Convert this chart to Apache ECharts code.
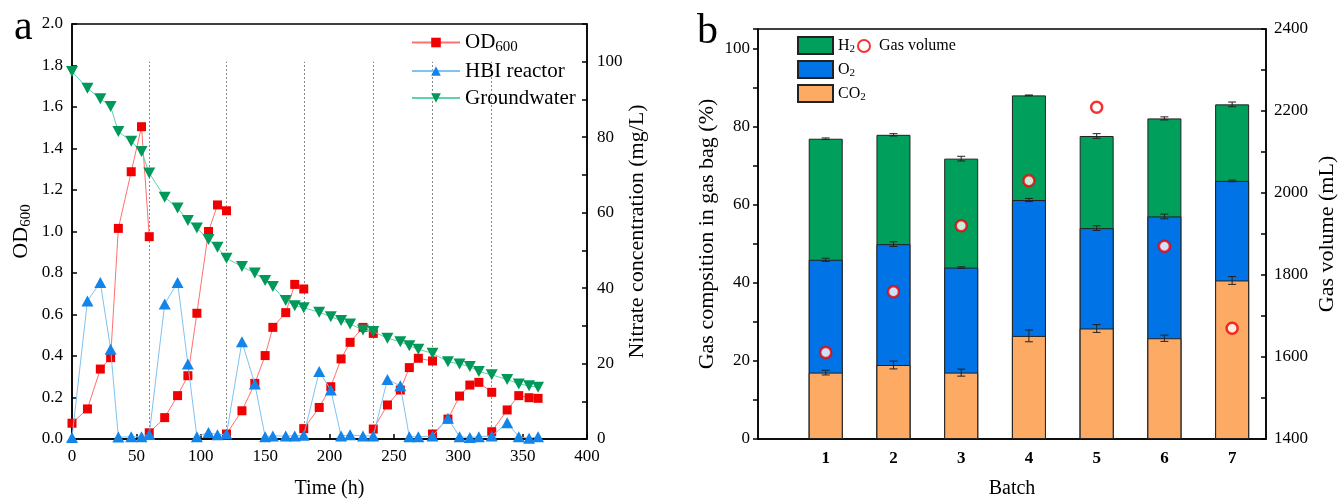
<!DOCTYPE html>
<html><head><meta charset="utf-8">
<script src="https://cdn.jsdelivr.net/npm/echarts@6/dist/echarts.min.js"></script>
<style>html,body{margin:0;padding:0;background:#fff}#c{width:1338px;height:500px}</style>
</head><body><div id="c"></div>
<script>
// ---------- Panel a data ----------
const sampleTimes = [0,12,22,30,36,46,54,60,72,82,90,97,106,113,120,132,142,150,156,166,173,180,192,201,209,216,226,234,245,255,262,269,280,292,301,309,316,326,338,347,355,362];
const groundwaterNitrate = [97.4,93.0,90.2,88.1,81.5,78.9,76.2,70.5,64.1,61.2,57.9,55.9,52.9,50.8,47.9,45.7,44.0,42.0,40.4,36.7,35.3,34.8,33.6,32.4,31.4,30.5,28.9,28.5,26.7,25.8,24.7,23.8,22.7,20.5,19.9,19.2,17.9,17.0,15.8,14.6,14.1,13.7];
const hbiNitrate = [0.4,36.6,41.5,23.8,0.5,0.6,0.6,1.2,35.8,41.5,19.9,0.6,1.7,1.1,1.3,25.8,14.6,0.6,0.8,0.8,0.8,1.0,17.9,13.0,0.8,1.1,0.8,0.8,15.8,14.1,0.6,0.6,0.8,5.5,0.6,0.4,0.6,0.8,4.3,0.6,0.2,0.6];
const odTimes = [0,12,22,30,36,46,54,60,60,72,82,90,97,106,113,120,120,132,142,150,156,166,173,180,180,192,201,209,216,226,234,234,245,255,262,269,280,280,292,301,309,316,326,326,338,347,355,362];
const odValues = [0.076,0.145,0.337,0.392,1.015,1.288,1.505,0.975,0.03,0.103,0.209,0.305,0.606,1.0,1.128,1.1,0.024,0.136,0.268,0.402,0.538,0.609,0.745,0.723,0.05,0.152,0.252,0.386,0.466,0.538,0.509,0.048,0.164,0.236,0.344,0.389,0.376,0.024,0.096,0.207,0.26,0.273,0.225,0.035,0.14,0.209,0.199,0.196];
const batchBoundaries = [60,120,180,234,280,326];

// ---------- Panel b data ----------
const batches = [1,2,3,4,5,6,7];
const co2 = [17.0,18.95,17.0,26.4,28.3,25.8,40.6];
const o2 = [28.9,30.95,26.9,34.8,25.7,31.2,25.5];
const h2 = [31.0,28.0,27.9,26.8,23.6,25.1,19.6];
const co2Err = [0.6,1.0,0.9,1.5,1.0,0.8,1.0];
const o2Err = [0.4,0.6,0.2,0.4,0.6,0.6,0.2];
const h2Err = [0.2,0.3,0.6,0.1,0.6,0.4,0.6];
const gasVolume = [1611,1759,1920,2030,2209,1870,1670];

const FONT = 'Liberation Serif';
const chart = echarts.init(document.getElementById('c'));

const pair = (xs, ys) => xs.map((x, i) => [x, ys[i]]);

// OD600 line: break the line where a new batch starts (same time sampled twice)
const odData = [];
odTimes.forEach((t, i) => {
  if (i > 0 && t === odTimes[i - 1]) odData.push([t, '-']);
  odData.push([t, odValues[i]]);
});

// cumulative tops for the layered bars
const topCO2 = co2.slice();
const topO2 = co2.map((v, i) => v + o2[i]);
const topH2 = co2.map((v, i) => v + o2[i] + h2[i]);
const errData = [];
batches.forEach((b, i) => {
  errData.push([b, topCO2[i], co2Err[i]]);
  errData.push([b, topO2[i], o2Err[i]]);
  errData.push([b, topH2[i], h2Err[i]]);
});

const axisTxt = {fontFamily: FONT, fontSize: 17, color: '#000'};
const blackLine = {lineStyle: {color: '#000', width: 1.5}};

const option = {
  animation: false,
  backgroundColor: '#fff',
  textStyle: {fontFamily: FONT},
  grid: [
    {left: 72, top: 24, width: 515, height: 415, containLabel: false, outerBoundsMode: 'none', show: true, borderColor: '#000', borderWidth: 1.5, backgroundColor: 'transparent'},
    {left: 758, top: 29, width: 508, height: 410, containLabel: false, outerBoundsMode: 'none', show: true, borderColor: '#000', borderWidth: 1.5, backgroundColor: 'transparent'}
  ],
  graphic: [
    {type: 'text', left: 14, top: 7, style: {text: 'a', font: '42px "Liberation Serif"', fill: '#000'}},
    {type: 'text', left: 697, top: 11, style: {text: 'b', font: '42px "Liberation Serif"', fill: '#000'}}
  ],
  legend: [
    {
      orient: 'vertical', left: 406, top: 27, itemWidth: 48, itemHeight: 12, itemGap: 6,
      data: ['OD600', 'HBI reactor', 'Groundwater'],
      textStyle: {fontFamily: FONT, fontSize: 21, color: '#000',
        rich: {a: {fontFamily: FONT, fontSize: 21, color: '#000'}, s: {fontFamily: FONT, fontSize: 15, color: '#000', verticalAlign: 'bottom', padding: [9, 0, 0, 0]}}},
      formatter: n => n === 'OD600' ? '{a|OD}{s|600}' : n
    },
    {
      orient: 'vertical', left: 792, top: 31, itemWidth: 35, itemHeight: 17, itemGap: 5, icon: 'rect',
      data: ['H2', 'O2', 'CO2'],
      textStyle: {fontFamily: FONT, fontSize: 16, color: '#000',
        rich: {a: {fontFamily: FONT, fontSize: 16, color: '#000'}, s: {fontFamily: FONT, fontSize: 11, color: '#000', verticalAlign: 'bottom', padding: [7, 0, 0, 0]}}},
      formatter: n => '{a|' + n.replace(/\d/, '') + '}{s|2}'
    },
    {
      orient: 'vertical', left: 852, top: 33, itemWidth: 20, itemHeight: 12, data: ['Gas volume'],
      textStyle: {fontFamily: FONT, fontSize: 16, color: '#000'}
    }
  ],
  xAxis: [
    {
      gridIndex: 0, type: 'value', min: 0, max: 400, interval: 50,
      name: 'Time (h)', nameLocation: 'middle', nameGap: 40,
      nameTextStyle: {fontFamily: FONT, fontSize: 20, color: '#000'},
      axisLine: blackLine,
      axisTick: {inside: true, length: 5, lineStyle: {color: '#000', width: 1.5}},
      axisLabel: Object.assign({margin: 9}, axisTxt),
      splitLine: {show: false}
    },
    {
      gridIndex: 1, type: 'value', min: 0, max: 7.5, interval: 1,
      name: 'Batch', nameLocation: 'middle', nameGap: 40,
      nameTextStyle: {fontFamily: FONT, fontSize: 20, color: '#000'},
      axisLine: blackLine,
      axisTick: {show: false},
      axisLabel: Object.assign({margin: 11, fontWeight: 'bold', showMaxLabel: false, formatter: v => (v >= 1 && v <= 7) ? String(v) : ''}, axisTxt),
      splitLine: {show: false}
    }
  ],
  yAxis: [
    {
      gridIndex: 0, type: 'value', min: 0, max: 2, interval: 0.2,
      name: '{a|OD}{s|600}', nameLocation: 'middle', nameGap: 38, nameRotate: 90,
      nameTextStyle: {rich: {
        a: {fontFamily: FONT, fontSize: 22, color: '#000'},
        s: {fontFamily: FONT, fontSize: 15, color: '#000', verticalAlign: 'bottom', padding: [10, 0, 0, 0]}
      }},
      axisLine: blackLine,
      axisTick: {inside: true, length: 5, lineStyle: {color: '#000', width: 1.5}},
      axisLabel: Object.assign({margin: 9, formatter: v => v.toFixed(1)}, axisTxt),
      splitLine: {show: false}
    },
    {
      gridIndex: 0, type: 'value', min: 0, max: 110, interval: 20, position: 'right',
      name: 'Nitrate concentration (mg/L)', nameLocation: 'middle', nameGap: 29, nameRotate: 90,
      nameTextStyle: {fontFamily: FONT, fontSize: 22, color: '#000'},
      axisLine: blackLine,
      axisTick: {inside: true, length: 5, lineStyle: {color: '#000', width: 1.5}},
      minorTick: {show: true, splitNumber: 2, length: 5, lineStyle: {color: '#000', width: 1.5}},
      axisLabel: Object.assign({margin: 10, showMaxLabel: false}, axisTxt),
      splitLine: {show: false}
    },
    {
      gridIndex: 1, type: 'value', min: 0, max: 105, interval: 20,
      name: 'Gas compsition in gas bag (%)', nameLocation: 'middle', nameGap: 40, nameRotate: 90,
      nameTextStyle: {fontFamily: FONT, fontSize: 22, color: '#000'},
      axisLine: blackLine,
      axisTick: {inside: false, length: 5, lineStyle: {color: '#000', width: 1.5}},
      minorTick: {show: true, splitNumber: 2, length: 5, lineStyle: {color: '#000', width: 1.5}},
      axisLabel: Object.assign({margin: 8, showMaxLabel: false}, axisTxt),
      splitLine: {show: false}
    },
    {
      gridIndex: 1, type: 'value', min: 1400, max: 2400, interval: 200, position: 'right',
      name: 'Gas volume (mL)', nameLocation: 'middle', nameGap: 50, nameRotate: 90,
      nameTextStyle: {fontFamily: FONT, fontSize: 22, color: '#000'},
      axisLine: blackLine,
      axisTick: {inside: true, length: 5, lineStyle: {color: '#000', width: 1.5}},
      minorTick: {show: true, splitNumber: 2, length: 5, lineStyle: {color: '#000', width: 1.5}},
      axisLabel: Object.assign({margin: 8, formatter: v => String(v)}, axisTxt),
      splitLine: {show: false}
    }
  ],
  series: [
    {
      name: 'OD600', type: 'line', xAxisIndex: 0, yAxisIndex: 0, connectNulls: false,
      data: odData, symbol: 'rect', symbolSize: 9,
      lineStyle: {color: '#ff7070', width: 1}, itemStyle: {color: '#f00000'}, z: 3
    },
    {
      name: 'HBI reactor', type: 'line', xAxisIndex: 0, yAxisIndex: 1,
      data: pair(sampleTimes, hbiNitrate), symbol: 'triangle', symbolSize: [12, 11],
      lineStyle: {color: '#7ec3f2', width: 1}, itemStyle: {color: '#1284ea'}, z: 4
    },
    {
      name: 'Groundwater', type: 'line', xAxisIndex: 0, yAxisIndex: 1,
      data: pair(sampleTimes, groundwaterNitrate), symbol: 'triangle', symbolRotate: 180, symbolSize: [12, 11],
      lineStyle: {color: '#5fd1ad', width: 1}, itemStyle: {color: '#00995a'}, z: 5,
      markLine: {
        silent: true, symbol: 'none', label: {show: false}, z: 1,
        lineStyle: {color: '#888', type: [2, 2], width: 1},
        data: batchBoundaries.map(t => [{coord: [t, 0]}, {coord: [t, 100]}])
      }
    },
    {
      name: 'H2', type: 'bar', xAxisIndex: 1, yAxisIndex: 2, barWidth: 34, barGap: '-100%',
      data: pair(batches, topH2), itemStyle: {color: '#00a05c', borderColor: '#222', borderWidth: 1}, z: 2
    },
    {
      name: 'O2', type: 'bar', xAxisIndex: 1, yAxisIndex: 2, barWidth: 34, barGap: '-100%',
      data: pair(batches, topO2), itemStyle: {color: '#0073e6', borderColor: '#222', borderWidth: 1}, z: 3
    },
    {
      name: 'CO2', type: 'bar', xAxisIndex: 1, yAxisIndex: 2, barWidth: 34, barGap: '-100%',
      data: pair(batches, topCO2), itemStyle: {color: '#fdaa65', borderColor: '#222', borderWidth: 1}, z: 4
    },
    {
      name: 'err', type: 'custom', xAxisIndex: 1, yAxisIndex: 2, z: 6,
      data: errData,
      renderItem: (params, api) => {
        const x = api.value(0), y = api.value(1), e = api.value(2);
        const hi = api.coord([x, y + e]), lo = api.coord([x, y - e]);
        const w = 4;
        const st = {stroke: '#222', lineWidth: 1};
        return {type: 'group', children: [
          {type: 'line', shape: {x1: hi[0], y1: hi[1], x2: lo[0], y2: lo[1]}, style: st},
          {type: 'line', shape: {x1: hi[0] - w, y1: hi[1], x2: hi[0] + w, y2: hi[1]}, style: st},
          {type: 'line', shape: {x1: lo[0] - w, y1: lo[1], x2: lo[0] + w, y2: lo[1]}, style: st}
        ]};
      }
    },
    {
      name: 'Gas volume', type: 'scatter', xAxisIndex: 1, yAxisIndex: 3, z: 8,
      data: pair(batches, gasVolume), symbol: 'circle', symbolSize: 11,
      itemStyle: {color: '#fff', borderColor: '#f00000', borderWidth: 2.5}
    }
  ]
};
chart.setOption(option);
</script>
</body></html>
